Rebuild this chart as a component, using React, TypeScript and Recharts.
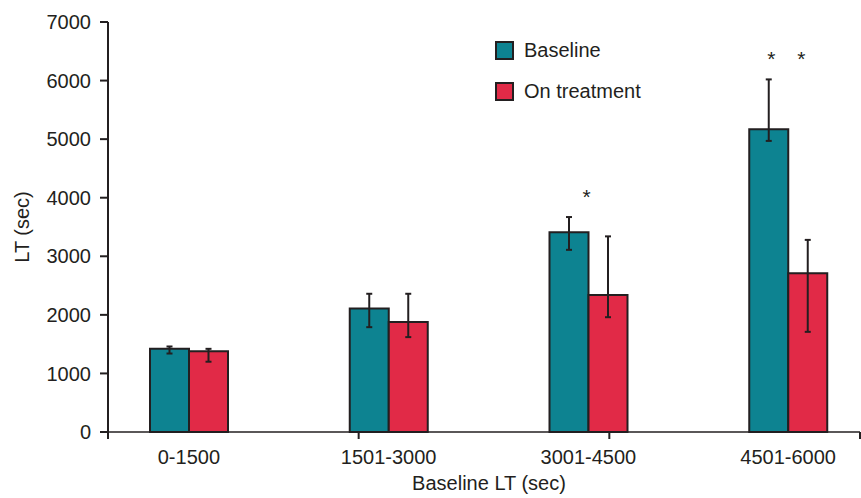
import React from "react";
import { BarChart, Bar, XAxis, YAxis, ErrorBar, LabelList, Legend, Label } from "recharts";

const ranges = ["0-1500", "1501-3000", "3001-4500", "4501-6000"];
const baseline = [1420, 2110, 3410, 5170];
const baselineErr: [number, number][] = [[80, 40], [320, 250], [300, 260], [200, 850]];
const treatment = [1380, 1880, 2340, 2710];
const treatmentErr: [number, number][] = [[180, 40], [260, 480], [380, 1000], [1000, 570]];
const stars = ["", "", "*", "**"];
const yTicks = [0, 1000, 2000, 3000, 4000, 5000, 6000, 7000];
const tickMarks = [0, 1, 2, 3];
const markEnd = 752 / 190;

const TEAL = "#0d8391";
const RED = "#e12a47";
const INK = "#231f20";
const FONT = "'Liberation Sans', Arial, Helvetica, sans-serif";

const data = ranges.map((r, i) => ({
  range: r,
  baseline: baseline[i],
  baselineErr: baselineErr[i],
  treatment: treatment[i],
  treatmentErr: treatmentErr[i],
  stars: stars[i],
}));

const StarLabel = (props: any) => {
  const { index, value } = props;
  if (!value) return null;
  const vb = props.viewBox ?? props;
  const { x, y, width, height } = vb;
  const perUnit = height / baseline[index];
  const errTop = y - baselineErr[index][1] * perUnit;
  const n = String(value).length;
  const cx = x + width - 2;
  return (
    <g>
      {Array.from(String(value)).map((s, k) => (
        <text key={k} x={cx + (k - (n - 1) / 2) * 30} y={errTop - 13} textAnchor="middle" fill={INK} fontSize={21} fontFamily={FONT}>
          {s}
        </text>
      ))}
    </g>
  );
};

// only the inner marks; the last tick just pins the scale end
const MarkTick = (props: any) => {
  const { x, y, index } = props;
  if (index >= tickMarks.length) return <g />;
  return <line x1={x} x2={x} y1={y - 1} y2={y + 6} stroke={INK} strokeWidth={2} />;
};

const LegendBox = () => (
  <div style={{ fontFamily: FONT, fontSize: 20, color: INK }}>
    {[
      { label: "Baseline", color: TEAL },
      { label: "On treatment", color: RED },
    ].map((it) => (
      <div key={it.label} style={{ display: "flex", alignItems: "center", height: 41 }}>
        <span style={{ width: 15, height: 15, background: it.color, border: `2px solid ${INK}`, marginRight: 10 }} />
        <span>{it.label}</span>
      </div>
    ))}
  </div>
);

export default function App() {
  return (
    <div style={{ position: "absolute", left: 0, top: 0, background: "#fff" }}>
      <BarChart
        width={861}
        height={498}
        data={data}
        margin={{ top: 22, right: 1, bottom: 0, left: 0 }}
        barGap={0}
        barSize={39}
      >
        <XAxis
          dataKey="range"
          height={1}
          padding={{ left: -19, right: -28 }}
          axisLine={{ stroke: INK, strokeWidth: 1.5 }}
          tickLine={false}
          tickSize={0}
          tickMargin={18}
          tick={{ fill: INK, fontSize: 20, fontFamily: FONT }}
          interval={0}
        >
          <Label
            content={({ viewBox }: any) => (
              <text x={viewBox.x + viewBox.width / 2 + 5} y={490} textAnchor="middle" fill={INK} fontSize={20} fontFamily={FONT}>
                Baseline LT (sec)
              </text>
            )}
          />
        </XAxis>
        <XAxis
          xAxisId="marks"
          type="number"
          domain={[0, markEnd]}
          ticks={[...tickMarks, markEnd]}
          interval={0}
          allowDataOverflow
          height={65}
          axisLine={false}
          tickLine={false}
          tickSize={0}
          tickMargin={0}
          tick={<MarkTick />}
        />
        <YAxis
          width={108}
          domain={[0, 7000]}
          ticks={yTicks}
          interval={0}
          axisLine={{ stroke: INK, strokeWidth: 2 }}
          tickLine={{ stroke: INK, strokeWidth: 2 }}
          tickSize={8}
          tickMargin={9}
          tick={{ fill: INK, fontSize: 20, fontFamily: FONT }}
        >
          <Label
            content={({ viewBox }: any) => {
              const cx = 22;
              const cy = viewBox.y + viewBox.height / 2;
              return (
                <text x={cx} y={cy} transform={`rotate(-90 ${cx} ${cy})`} textAnchor="middle" dominantBaseline="central" fill={INK} fontSize={20} fontFamily={FONT}>
                  LT (sec)
                </text>
              );
            }}
          />
        </YAxis>
        <Legend
          layout="vertical"
          verticalAlign="middle"
          align="center"
          wrapperStyle={{ left: 495, top: 30, width: 220 }}
          content={() => <LegendBox />}
        />
        <Bar dataKey="baseline" fill={TEAL} stroke={INK} strokeWidth={2} isAnimationActive={false}>
          <ErrorBar dataKey="baselineErr" width={3} stroke={INK} strokeWidth={2} direction="y" />
          <LabelList dataKey="stars" content={StarLabel} />
        </Bar>
        <Bar dataKey="treatment" fill={RED} stroke={INK} strokeWidth={2} isAnimationActive={false}>
          <ErrorBar dataKey="treatmentErr" width={3} stroke={INK} strokeWidth={2} direction="y" />
        </Bar>
      </BarChart>
    </div>
  );
}
